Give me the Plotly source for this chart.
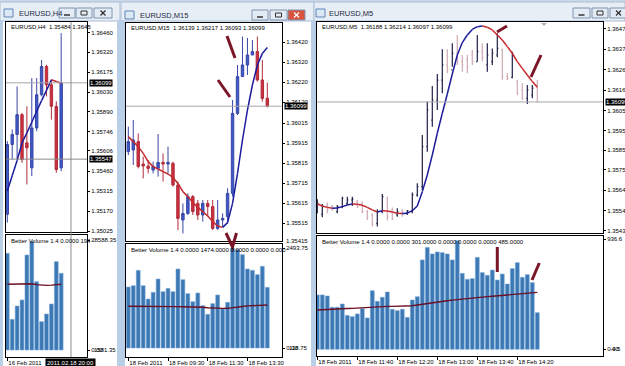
import plotly.graph_objects as go

W, H = 625, 366

# ===================== DATA =====================
# Window 1 : EURUSD,H4
h4_open  = [1.35148, 1.35653, 1.35725, 1.35869, 1.35665, 1.35484, 1.35773, 1.36013, 1.36217, 1.36085, 1.35929, 1.35484]
h4_high  = [1.35677, 1.35761, 1.36073, 1.35881, 1.35929, 1.36133, 1.36133, 1.36265, 1.36229, 1.36121, 1.35965, 1.36458]
h4_low   = [1.35088, 1.35544, 1.35544, 1.35520, 1.35364, 1.35424, 1.35749, 1.36001, 1.36001, 1.35833, 1.35448, 1.35460]
h4_close = [1.35653, 1.35725, 1.35869, 1.35544, 1.35629, 1.35773, 1.36013, 1.36217, 1.36085, 1.35929, 1.35472, 1.36099]
h4_ma    = [1.35316, 1.35427, 1.35537, 1.35665, 1.35737, 1.35814, 1.35893, 1.35970, 1.36044, 1.36121, 1.36109, 1.36097]
h4_vol   = [25133, 7977, 11436, 12995, 24690, 28150, 17756, 7365, 9356, 11955, 22956, 19935]
h4_vol_ma = [17100, 17100, 17110, 17120, 17150, 17200, 17000, 16850, 16800, 16850, 16950, 17080]
h4_price_ticks = [1.36460, 1.36320, 1.36175, 1.36030, 1.35890, 1.35746, 1.35606, 1.35460, 1.35315, 1.35170, 1.35025]
h4_time_ticks = [0]
h4_time_labels = ["16 Feb 2011"]
h4_vol_top = 28588.35
h4_vol_low_label = "1581.35"
h4_cursor_index = 13
h4_cursor_price = 1.35547
h4_cursor_time = "2011.02.18 20:00"
h4_header = "EURUSD,H4  1.35484 1.3645"
h4_vol_header = "Better Volume 1.4 0.0000 194"

# Window 2 : EURUSD,M15
m15_open  = [1.35872, 1.35880, 1.35922, 1.35810, 1.35800, 1.35780, 1.35788, 1.35818, 1.35810, 1.35813,
             1.35705, 1.35530, 1.35563, 1.35647, 1.35613, 1.35555, 1.35613, 1.35597, 1.35488, 1.35530,
             1.35547, 1.35663, 1.36063, 1.36247, 1.36305, 1.36355, 1.36372, 1.36230, 1.36139]
m15_high  = [1.35997, 1.36030, 1.35963, 1.35847, 1.35830, 1.35822, 1.35960, 1.35863, 1.35897, 1.35822,
             1.35722, 1.35613, 1.35663, 1.35655, 1.35630, 1.35630, 1.35630, 1.35630, 1.35630, 1.35563,
             1.35688, 1.36130, 1.36305, 1.36447, 1.36440, 1.36430, 1.36447, 1.36330, 1.36217]
m15_low   = [1.35855, 1.35805, 1.35788, 1.35738, 1.35763, 1.35763, 1.35747, 1.35722, 1.35763, 1.35697,
             1.35480, 1.35463, 1.35555, 1.35555, 1.35530, 1.35522, 1.35547, 1.35480, 1.35480, 1.35497,
             1.35513, 1.35647, 1.36055, 1.36247, 1.36255, 1.36355, 1.36222, 1.36122, 1.36093]
m15_close = [1.35922, 1.35930, 1.35797, 1.35800, 1.35788, 1.35797, 1.35818, 1.35810, 1.35818, 1.35705,
             1.35538, 1.35563, 1.35647, 1.35572, 1.35555, 1.35613, 1.35597, 1.35488, 1.35530, 1.35538,
             1.35663, 1.36063, 1.36247, 1.36305, 1.36355, 1.36372, 1.36230, 1.36138, 1.36099]
m15_ma    = [1.35947, 1.35922, 1.35897, 1.35863, 1.35822, 1.35797, 1.35785, 1.35772, 1.35760, 1.35743,
             1.35713, 1.35672, 1.35647, 1.35617, 1.35593, 1.35572, 1.35550, 1.35522, 1.35500, 1.35493,
             1.35517, 1.35613, 1.35763, 1.35930, 1.36080, 1.36205, 1.36305, 1.36363, 1.36392]
m15_vol   = [1521, 1554, 1937, 1554, 1222, 1388, 1721, 1405, 1488, 1405, 1970, 1704, 1355, 1155, 1372,
             1056, 840, 1106, 1322, 973, 1139, 2494, 2452, 2328, 1970, 1937, 1829, 2037, 1513]
m15_vol_ma = [1040, 1041, 1042, 1040, 1038, 1037, 1036, 1035, 1034, 1034, 1033, 1031, 1030, 1028, 1025,
              1018, 1005, 995, 990, 988, 990, 1000, 1018, 1035, 1050, 1060, 1066, 1070, 1072]
m15_price_ticks = [1.36420, 1.36320, 1.36220, 1.36120, 1.36015, 1.35915, 1.35815, 1.35715, 1.35615, 1.35515]
m15_price_extra = 1.35415
m15_time_ticks = [0, 8, 16, 24]
m15_time_labels = ["18 Feb 2011", "18 Feb 09:30", "18 Feb 11:30", "18 Feb 13:30"]
m15_vol_top = 2493.75
m15_vol_low_label = "118.75"
m15_header = "EURUSD,M15  1.36139 1.36217 1.36093 1.36099"
m15_vol_header = "Better Volume 1.4 0.0000 1474.0000 0.0000 0.0000 0.000"

# Window 3 : EURUSD,M5
m5_open  = [1.35540, 1.35520, 1.35568, 1.35560, 1.35534, 1.35560, 1.35577, 1.35594, 1.35586, 1.35577,
            1.35534, 1.35517, 1.35474, 1.35534, 1.35603, 1.35543, 1.35517, 1.35539, 1.35526, 1.35534,
            1.35620, 1.35663, 1.35869, 1.36006, 1.36109, 1.36212, 1.36290, 1.36264, 1.36350, 1.36307,
            1.36320, 1.36341, 1.36307, 1.36358, 1.36290, 1.36307, 1.36341, 1.36367, 1.36230, 1.36226,
            1.36204, 1.36161, 1.36118, 1.36135, 1.36188]
m5_high  = [1.35598, 1.35574, 1.35581, 1.35568, 1.35568, 1.35611, 1.35611, 1.35611, 1.35594, 1.35586,
            1.35543, 1.35526, 1.35546, 1.35625, 1.35611, 1.35555, 1.35551, 1.35546, 1.35543, 1.35632,
            1.35680, 1.35929, 1.36101, 1.36181, 1.36243, 1.36370, 1.36370, 1.36401, 1.36444, 1.36341,
            1.36341, 1.36367, 1.36444, 1.36401, 1.36401, 1.36375, 1.36453, 1.36375, 1.36247, 1.36358,
            1.36212, 1.36195, 1.36187, 1.36187, 1.36214]
m5_low   = [1.35526, 1.35505, 1.35526, 1.35539, 1.35526, 1.35551, 1.35568, 1.35563, 1.35551, 1.35526,
            1.35491, 1.35457, 1.35457, 1.35526, 1.35488, 1.35491, 1.35508, 1.35508, 1.35517, 1.35526,
            1.35611, 1.35646, 1.35843, 1.35972, 1.36058, 1.36144, 1.36247, 1.36281, 1.36290, 1.36255,
            1.36247, 1.36290, 1.36307, 1.36307, 1.36255, 1.36290, 1.36329, 1.36212, 1.36212, 1.36221,
            1.36135, 1.36109, 1.36089, 1.36118, 1.36097]
m5_close = [1.35577, 1.35560, 1.35543, 1.35546, 1.35560, 1.35603, 1.35594, 1.35598, 1.35560, 1.35534,
            1.35505, 1.35470, 1.35534, 1.35611, 1.35505, 1.35500, 1.35534, 1.35517, 1.35539, 1.35620,
            1.35663, 1.35869, 1.36058, 1.36109, 1.36212, 1.36290, 1.36264, 1.36350, 1.36307, 1.36290,
            1.36281, 1.36307, 1.36358, 1.36329, 1.36341, 1.36350, 1.36375, 1.36230, 1.36221, 1.36341,
            1.36144, 1.36118, 1.36161, 1.36170, 1.36099]
m5_ma    = [1.35574, 1.35563, 1.35556, 1.35551, 1.35553, 1.35560, 1.35568, 1.35574, 1.35572, 1.35567,
            1.35556, 1.35543, 1.35532, 1.35539, 1.35537, 1.35532, 1.35526, 1.35524, 1.35526, 1.35539,
            1.35563, 1.35637, 1.35723, 1.35826, 1.35938, 1.36041, 1.36140, 1.36243, 1.36341, 1.36405,
            1.36444, 1.36473, 1.36487, 1.36490, 1.36484, 1.36470, 1.36444, 1.36418, 1.36384, 1.36350,
            1.36307, 1.36272, 1.36238, 1.36204, 1.36175]
m5_vol   = [463, 463, 454, 358, 358, 386, 289, 278, 301, 346, 267, 499, 409, 443, 488,
            341, 329, 341, 272, 420, 448, 761, 868, 812, 829, 823, 812, 761, 925, 647,
            596, 602, 783, 653, 630, 675, 590, 641, 556, 687, 738, 613, 636, 568, 312]
m5_vol_ma = [335, 336, 338, 340, 343, 345, 347, 349, 352, 355, 357, 359, 362, 365, 366,
             366, 366, 366, 367, 371, 377, 384, 391, 397, 403, 409, 414, 419, 424, 429,
             433, 437, 441, 445, 449, 452, 455, 459, 462, 466, 470, 474, 478, 482, 485]
m5_price_ticks = [1.36475, 1.36370, 1.36265, 1.36160, 1.36055, 1.35950, 1.35850, 1.35750, 1.35645, 1.35540, 1.35435]
m5_time_ticks = [0, 8, 16, 24, 32, 40]
m5_time_labels = ["18 Feb 2011", "18 Feb 11:40", "18 Feb 12:20", "18 Feb 13:00", "18 Feb 13:40", "18 Feb 14:20"]
m5_vol_top = 936.6
m5_vol_low_label = "-4.5"
m5_header = "EURUSD,M5  1.36188 1.36214 1.36097 1.36099"
m5_vol_header = "Better Volume 1.4 0.0000 0.0000 301.0000 0.0000 0.0000 0.0000 485.0000"

bid_price = 1.36099
titles = ["EURUSD,H4", "EURUSD,M15", "EURUSD,M5"]

# ===================== STYLE / GEOMETRY =====================
FONT = "Liberation Sans, Arial, sans-serif"
UP_LINE, UP_FILL = "#3a46a6", "#3c5ac8"
DN_LINE, DN_FILL = "#b02c3c", "#cc2f3e"
MA_UP, MA_DN = "#1c1c9c", "#c42a2e"
VOL_FILL, VOL_EDGE = "#3b78b4", "#78a8d6"
VOL_MA = "#6a0f24"
STROKE = "#7b1628"


def fx(p):
    return p / W


def fy(p):
    return 1 - p / H


fig = go.Figure()

panels = [
    dict(x0=6, x1=87, py0=22, py1=232, vy0=235, vy1=357,
         xr=[-0.265, 16.27], pr=[1.35020, 1.36539], vr=[-1819, 29888]),
    dict(x0=126, x1=282, py0=23, py1=241, vy0=244, vy1=357,
         xr=[-0.463, 30.96], pr=[1.35425, 1.36515], vr=[-224, 2594]),
    dict(x0=317, x1=603, py0=22, py1=233, vy0=236, vy1=356,
         xr=[-0.06, 57.14], pr=[1.35424, 1.36511], vr=[-57, 965]),
]

series = [
    dict(o=h4_open, h=h4_high, l=h4_low, c=h4_close, ma=h4_ma, v=h4_vol, vma=h4_vol_ma,
         pt=h4_price_ticks, tt=h4_time_ticks, tl=h4_time_labels, vtop=h4_vol_top,
         vtop_txt=f"{h4_vol_top:.2f}",
         vlow=h4_vol_low_label, head=h4_header, vhead=h4_vol_header, kind="candle"),
    dict(o=m15_open, h=m15_high, l=m15_low, c=m15_close, ma=m15_ma, v=m15_vol, vma=m15_vol_ma,
         pt=m15_price_ticks, tt=m15_time_ticks, tl=m15_time_labels, vtop=m15_vol_top,
         vtop_txt=f"{m15_vol_top:.2f}",
         vlow=m15_vol_low_label, head=m15_header, vhead=m15_vol_header, kind="candle"),
    dict(o=m5_open, h=m5_high, l=m5_low, c=m5_close, ma=m5_ma, v=m5_vol, vma=m5_vol_ma,
         pt=m5_price_ticks, tt=m5_time_ticks, tl=m5_time_labels, vtop=m5_vol_top,
         vtop_txt=f"{m5_vol_top:.1f}",
         vlow=m5_vol_low_label, head=m5_header, vhead=m5_vol_header, kind="bar"),
]

layout_axes = {}
annotations = []
shapes = []

for k, (pn, s) in enumerate(zip(panels, series)):
    ip = 2 * k + 1
    iv = 2 * k + 2
    xp = "x" if ip == 1 else f"x{ip}"
    yp = "y" if ip == 1 else f"y{ip}"
    xv, yv = f"x{iv}", f"y{iv}"
    n = len(s["o"])
    idx = list(range(n))

    if s["kind"] == "candle":
        fig.add_trace(go.Candlestick(
            x=idx, open=s["o"], high=s["h"], low=s["l"], close=s["c"],
            xaxis=xp, yaxis=yp, whiskerwidth=0, hoverinfo="skip",
            increasing=dict(line=dict(color=UP_LINE, width=1), fillcolor=UP_FILL),
            decreasing=dict(line=dict(color=DN_LINE, width=1), fillcolor=DN_FILL)))
    else:
        fig.add_trace(go.Ohlc(
            x=idx, open=s["o"], high=s["h"], low=s["l"], close=s["c"],
            xaxis=xp, yaxis=yp, tickwidth=0.22, hoverinfo="skip",
            increasing=dict(line=dict(color="#20204a", width=1.2)),
            decreasing=dict(line=dict(color="#cfaab4", width=1.2))))

    # moving average coloured by slope
    ux, uy, dx, dy = [], [], [], []
    ma = s["ma"]
    for i in range(n - 1):
        if ma[i + 1] > ma[i]:
            ux += [i, i + 1, None]
            uy += [ma[i], ma[i + 1], None]
        else:
            dx += [i, i + 1, None]
            dy += [ma[i], ma[i + 1], None]
    fig.add_trace(go.Scatter(x=dx, y=dy, mode="lines", line=dict(color=MA_DN, width=1.5),
                             xaxis=xp, yaxis=yp, hoverinfo="skip"))
    fig.add_trace(go.Scatter(x=ux, y=uy, mode="lines", line=dict(color=MA_UP, width=1.5),
                             xaxis=xp, yaxis=yp, hoverinfo="skip"))

    # volume
    fig.add_trace(go.Bar(x=idx, y=s["v"], xaxis=xv, yaxis=yv, width=0.78,
                         marker=dict(color=VOL_FILL, line=dict(color=VOL_EDGE, width=0.6)),
                         hoverinfo="skip"))
    fig.add_trace(go.Scatter(x=idx, y=s["vma"], mode="lines", line=dict(color=VOL_MA, width=1.4),
                             xaxis=xv, yaxis=yv, hoverinfo="skip"))

    common = dict(showgrid=False, zeroline=False, showline=True, mirror=True,
                  linecolor="#000", linewidth=1, fixedrange=True, automargin=False)
    tfont = dict(size=6, family=FONT, color="#000")
    layout_axes[("xaxis" if ip == 1 else f"xaxis{ip}")] = dict(
        common, domain=[fx(pn["x0"]), fx(pn["x1"])], range=pn["xr"], anchor=yp,
        showticklabels=False, ticks="", rangeslider=dict(visible=False))
    layout_axes[("yaxis" if ip == 1 else f"yaxis{ip}")] = dict(
        common, domain=[fy(pn["py1"]), fy(pn["py0"])], range=pn["pr"], anchor=xp,
        side="right", tickmode="array", tickvals=s["pt"],
        ticktext=[f"{t:.5f}" for t in s["pt"]], ticks="outside", ticklen=2,
        tickcolor="#000", tickfont=tfont)
    layout_axes[f"xaxis{iv}"] = dict(
        common, domain=[fx(pn["x0"]), fx(pn["x1"])], range=pn["xr"], anchor=yv,
        tickmode="array", tickvals=s["tt"], ticktext=s["tl"], ticks="outside",
        ticklen=3, tickcolor="#000", ticklabelposition="outside right", tickangle=0,
        tickfont=tfont)
    layout_axes[f"yaxis{iv}"] = dict(
        common, domain=[fy(pn["vy1"]), fy(pn["vy0"])], range=pn["vr"], anchor=xv,
        side="right", tickmode="array", tickvals=[0, s["vtop"]],
        ticktext=["0.00", s["vtop_txt"]],
        ticks="outside", ticklen=2, tickcolor="#000", tickfont=tfont)

    # overlapping low label on volume axis (as in the terminal)
    annotations.append(dict(x=fx(pn["x1"] + 5), y=0, xref="paper", yref=yv, text=s["vlow"],
                            showarrow=False, xanchor="left", yanchor="middle",
                            font=dict(size=6, family=FONT, color="#000")))
    # bid line
    shapes.append(dict(type="line", xref=f"{xp} domain", yref=yp, x0=0, x1=1,
                       y0=bid_price, y1=bid_price, line=dict(color="#a8a8a8", width=1)))
    annotations.append(dict(x=fx(pn["x1"] + 1.5), y=bid_price, xref="paper", yref=yp,
                            text=f"{bid_price:.5f}", showarrow=False, xanchor="left",
                            yanchor="middle", bgcolor="#000", borderpad=0,
                            font=dict(size=6, family=FONT, color="#fff")))
    # headers
    annotations.append(dict(x=fx(pn["x0"] + 3), y=fy(pn["py0"] + 5), xref="paper", yref="paper",
                            text=s["head"], showarrow=False, xanchor="left", yanchor="middle",
                            font=dict(size=6, family=FONT, color="#000")))
    annotations.append(dict(x=fx(pn["x0"] + 3), y=fy(pn["vy0"] + 6), xref="paper", yref="paper",
                            text=s["vhead"], showarrow=False, xanchor="left", yanchor="middle",
                            font=dict(size=6, family=FONT, color="#000")))

# extra price label below window 2 plot
annotations.append(dict(x=fx(284), y=fy(241), xref="paper", yref="paper",
                        text=f"{m15_price_extra:.5f}", showarrow=False, xanchor="left",
                        yanchor="middle", font=dict(size=6, family=FONT, color="#000")))

# crosshair window 1
shapes.append(dict(type="line", xref="x", yref="paper", x0=h4_cursor_index, x1=h4_cursor_index,
                   y0=fy(357), y1=fy(22), line=dict(color="#8a8a8a", width=1)))
shapes.append(dict(type="line", xref="x domain", yref="y", x0=0, x1=1,
                   y0=h4_cursor_price, y1=h4_cursor_price, line=dict(color="#8a8a8a", width=1)))
annotations.append(dict(x=fx(88.5), y=h4_cursor_price, xref="paper", yref="y",
                        text=f"{h4_cursor_price:.5f}", showarrow=False, xanchor="left",
                        yanchor="middle", bgcolor="#000", borderpad=0,
                        font=dict(size=6, family=FONT, color="#fff")))
annotations.append(dict(x=h4_cursor_index, y=fy(362.5), xref="x2", yref="paper",
                        text=h4_cursor_time, showarrow=False, xanchor="center", yanchor="middle",
                        bgcolor="#000", borderpad=1, font=dict(size=6, family=FONT, color="#fff")))

# ---------- window chrome ----------
chrome = []
frame_col = "#b9cfe8"
chrome.append(dict(type="rect", xref="paper", yref="paper", x0=0, x1=1, y0=fy(3), y1=1,
                   fillcolor="#c9d7e6", line=dict(width=0)))
win = [(0, 120), (121, 314), (314, 625)]
for (a, b) in win:
    chrome.append(dict(type="rect", xref="paper", yref="paper", x0=fx(a), x1=fx(b), y0=fy(21),
                       y1=fy(2), fillcolor="#e8eef6", line=dict(color="#a9bdd6", width=1)))
for (a, b) in [(0, 3), (117, 125), (311, 316)]:
    chrome.append(dict(type="rect", xref="paper", yref="paper", x0=fx(a), x1=fx(b), y0=0,
                       y1=fy(20), fillcolor=frame_col, line=dict(width=0)))
title_pos = [(3, 17, 13), (124, 138, 15), (315, 327, 13)]
btns = [[(59, 75), (76, 92), (94, 112)], [(252, 268), (270, 287), (288, 305)],
        [(573, 590), (592, 608), (610, 627)]]
for t, (ix, tx, ty), bl in zip(titles, title_pos, btns):
    chrome.append(dict(type="rect", xref="paper", yref="paper", x0=fx(ix + 1), x1=fx(ix + 10),
                       y0=fy(ty + 4), y1=fy(ty - 4), fillcolor="#dce8f4",
                       line=dict(color="#5d86b8", width=1)))
    annotations.append(dict(x=fx(tx), y=fy(ty), xref="paper", yref="paper", text=t,
                            showarrow=False, xanchor="left", yanchor="middle",
                            font=dict(size=7.5, family=FONT, color="#1e2a44")))
    for j, (b0, b1) in enumerate(bl):
        red = (t == "EURUSD,M15" and j == 2)
        chrome.append(dict(type="rect", xref="paper", yref="paper", x0=fx(b0), x1=fx(b1),
                           y0=fy(ty + 5), y1=fy(ty - 5),
                           fillcolor="#d9533f" if red else "#e3ebf5",
                           line=dict(color="#8094b0", width=1)))
        cx, cy = (b0 + b1) / 2, ty
        if j == 0:
            chrome.append(dict(type="line", xref="paper", yref="paper", x0=fx(cx - 3), x1=fx(cx + 3),
                               y0=fy(cy + 2), y1=fy(cy + 2), line=dict(color="#333", width=1.5)))
        elif j == 1:
            chrome.append(dict(type="rect", xref="paper", yref="paper", x0=fx(cx - 3), x1=fx(cx + 3),
                               y0=fy(cy + 2), y1=fy(cy - 2), line=dict(color="#333", width=1)))
        else:
            col = "#fff" if red else "#333"
            chrome.append(dict(type="line", xref="paper", yref="paper", x0=fx(cx - 2.5), x1=fx(cx + 2.5),
                               y0=fy(cy + 2.5), y1=fy(cy - 2.5), line=dict(color=col, width=1.3)))
            chrome.append(dict(type="line", xref="paper", yref="paper", x0=fx(cx - 2.5), x1=fx(cx + 2.5),
                               y0=fy(cy - 2.5), y1=fy(cy + 2.5), line=dict(color=col, width=1.3)))
for c in chrome:
    c["layer"] = "below"

shapes.append(dict(type="path", xref="paper", yref="paper",
                   path=f"M {fx(541)} {fy(23)} L {fx(547)} {fy(23)} L {fx(544)} {fy(26)} Z",
                   fillcolor="#b0b0b0", line=dict(width=0)))

strokes = [
    [(227, 36), (235, 58)], [(218, 80), (230, 97)],
    [(226, 233), (232.5, 247), (236.5, 233)],
    [(497, 32), (507, 26)], [(531, 77), (541, 55)],
    [(497.3, 247), (497.3, 272)], [(532, 280), (539.3, 263)],
]
for st in strokes:
    path = "M " + " L ".join(f"{fx(a)} {fy(b)}" for a, b in st)
    shapes.append(dict(type="path", xref="paper", yref="paper", path=path,
                       line=dict(color=STROKE, width=3)))

fig.update_layout(
    width=W, height=H, margin=dict(l=0, r=0, t=0, b=0, autoexpand=False),
    paper_bgcolor="#ffffff", plot_bgcolor="#ffffff", showlegend=False,
    shapes=chrome + shapes, annotations=annotations, **layout_axes,
)

fig.write_html("out.html")
